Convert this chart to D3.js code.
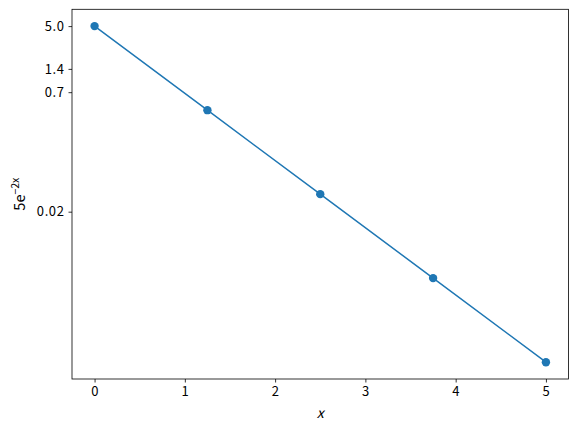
<!DOCTYPE html>
<html><head><meta charset="utf-8">
<script src="https://cdn.jsdelivr.net/npm/d3@7"></script>
<style>body{margin:0;background:#fff}svg{display:block}text{font-family:"Noto Sans CJK JP","DejaVu Sans",sans-serif}</style>
</head><body><svg id="c" width="577" height="430"></svg>
<script>
const xValues = [0, 1.25, 2.5, 3.75, 5];
const yValues = [5.0, 0.41, 0.0337, 0.00277, 0.000227];
const xTicks = [0, 1, 2, 3, 4, 5];
const yTicks = [5.0, 1.4, 0.7, 0.02];
const yTickLabels = ["5.0", "1.4", "0.7", "0.02"];

const W = 577, H = 430;
const m = {l: 72, r: 8.5, t: 9.3, b: 51};
const svg = d3.select("#c");
const pw = W - m.l - m.r, ph = H - m.t - m.b;
const g = svg.append("g").attr("transform", `translate(${m.l},${m.t})`);

const xpad = 0.05 * 5;
const x = d3.scaleLinear().domain([0 - xpad, 5 + xpad]).range([0, pw]);
const lmin = Math.log10(d3.min(yValues)), lmax = Math.log10(d3.max(yValues));
const lpad = 0.05 * (lmax - lmin);
const y = d3.scaleLog().domain([Math.pow(10, lmin - lpad), Math.pow(10, lmax + lpad)]).range([ph, 0]);

const data = xValues.map((v, i) => [v, yValues[i]]);
g.append("path").datum(data)
  .attr("fill", "none").attr("stroke", "#1f77b4").attr("stroke-width", 1.5)
  .attr("d", d3.line().x(d => x(d[0])).y(d => y(d[1])));
g.selectAll("circle").data(data).join("circle")
  .attr("cx", d => x(d[0])).attr("cy", d => y(d[1])).attr("r", 4.2).attr("fill", "#1f77b4");

const xa = g.append("g").attr("transform", `translate(0,${ph})`)
  .call(d3.axisBottom(x).tickValues(xTicks).tickFormat(d3.format("d")).tickSize(3.5).tickPadding(4));
const ya = g.append("g")
  .call(d3.axisLeft(y).tickValues(yTicks).tickFormat((d, i) => yTickLabels[i]).tickSize(3.5).tickPadding(4));
[xa, ya].forEach(a => {
  a.selectAll(".domain").remove();
  a.selectAll("line").attr("stroke", "#000").attr("stroke-width", 0.8);
  a.selectAll("text").attr("font-size", 13).attr("fill", "#000").attr("letter-spacing", 0.6)
    .style("font-family", '"Noto Sans CJK JP","DejaVu Sans",sans-serif');
});
g.append("rect").attr("width", pw).attr("height", ph)
  .attr("fill", "none").attr("stroke", "#000").attr("stroke-width", 0.8);

svg.append("text").attr("x", m.l + pw / 2).attr("y", 418).attr("text-anchor", "middle")
  .attr("font-size", 14).attr("font-style", "italic").attr("font-family", "DejaVu Sans").text("x");

const yl = svg.append("text").attr("transform", `translate(25,${m.t + ph / 2}) rotate(-90)`)
  .attr("text-anchor", "middle").attr("font-size", 14.5);
yl.append("tspan").text("5e");
yl.append("tspan").attr("dy", -6.5).attr("font-size", 10.5).text("\u2212");
yl.append("tspan").attr("font-size", 10.5).text("2x");
</script></body></html>
